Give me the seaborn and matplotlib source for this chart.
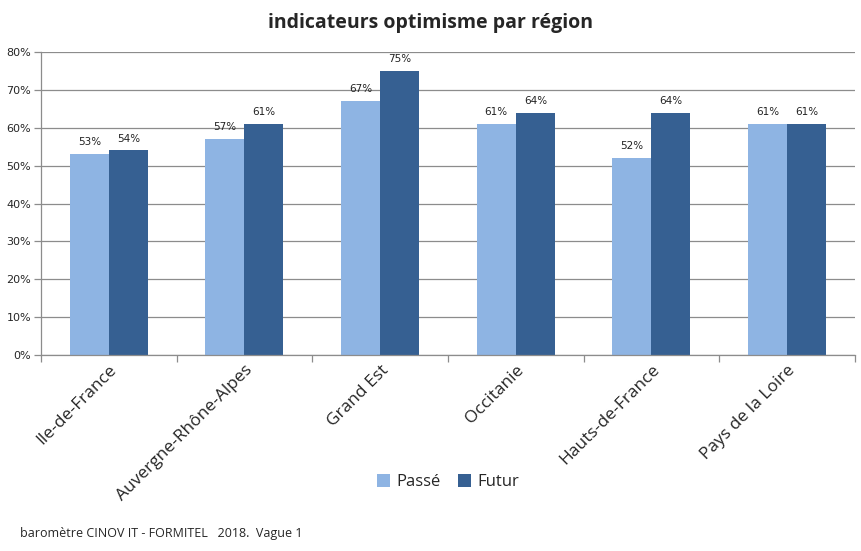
import numpy as np
import pandas as pd
import matplotlib
matplotlib.use("Agg")
import matplotlib.pyplot as plt
from matplotlib.ticker import MultipleLocator, PercentFormatter, FixedLocator
import seaborn as sns

regions = ["Ile-de-France", "Auvergne-Rhône-Alpes", "Grand Est",
           "Occitanie", "Hauts-de-France", "Pays de la Loire"]
passe = [53, 57, 67, 61, 52, 61]
futur = [54, 61, 75, 64, 64, 61]
series = ["Passé", "Futur"]

df = pd.DataFrame({
    "Région": regions * 2,
    "Valeur": passe + futur,
    "Période": [series[0]] * len(regions) + [series[1]] * len(regions),
})

sns.set_theme(style="white")
plt.rcParams["font.family"] = ["DejaVu Sans"]

fig = plt.figure(figsize=(8.61, 5.51), dpi=100)
ax = fig.add_axes([0.0476, 0.3557, 0.9454, 0.5499])

sns.barplot(
    data=df, x="Région", y="Valeur", hue="Période",
    palette=["#8EB4E3", "#366092"], width=0.575,
    ax=ax, legend=True, saturation=1, linewidth=0, edgecolor="none",
)

for cont in ax.containers:
    ax.bar_label(cont, labels=[f"{v:.0f}%" for v in cont.datavalues],
                 padding=5, fontsize=7.5, color="#222222")

ax.set_ylim(0, 80)
ax.set_xlim(-0.5, len(regions) - 0.5)
ax.yaxis.set_major_locator(MultipleLocator(10))
ax.yaxis.set_major_formatter(PercentFormatter(decimals=0))
ax.grid(axis="y", color="#8c8c8c", linewidth=0.9)
ax.grid(axis="x", visible=False)
ax.set_axisbelow(True)
for s in ["top", "right"]:
    ax.spines[s].set_visible(False)
for s in ["left", "bottom"]:
    ax.spines[s].set_color("#8c8c8c")
    ax.spines[s].set_linewidth(0.9)

ax.tick_params(axis="y", which="major", direction="out", length=5,
               color="#8c8c8c", width=0.9, labelsize=8, pad=2, left=True)
ax.xaxis.set_minor_locator(FixedLocator(np.arange(-0.5, len(regions), 1)))
ax.tick_params(axis="x", which="minor", direction="out", length=5,
               color="#8c8c8c", width=0.9, bottom=True)
ax.tick_params(axis="x", which="major", length=0, labelsize=12.5, pad=5)
plt.setp(ax.get_xticklabels(), rotation=45, ha="right", rotation_mode="anchor",
         family=["Open Sans", "DejaVu Sans"])
ax.set_xlabel("")
ax.set_ylabel("")

leg = ax.legend(loc="center", bbox_to_anchor=(0.5, -0.42), ncol=2,
                frameon=False, fontsize=12, handlelength=0.8, handleheight=0.8,
                columnspacing=1.0, handletextpad=0.4)
for t in leg.get_texts():
    t.set_family(["Open Sans", "DejaVu Sans"])

fig.text(0.5, 0.958, "indicateurs optimisme par région", ha="center", va="center",
         fontsize=14, fontweight="bold", family=["Open Sans", "DejaVu Sans"])
fig.text(0.023, 0.032, "baromètre CINOV IT - FORMITEL   2018.  Vague 1",
         ha="left", va="center", fontsize=9, family=["Open Sans", "DejaVu Sans"])

fig.savefig("out.png", dpi=100)
